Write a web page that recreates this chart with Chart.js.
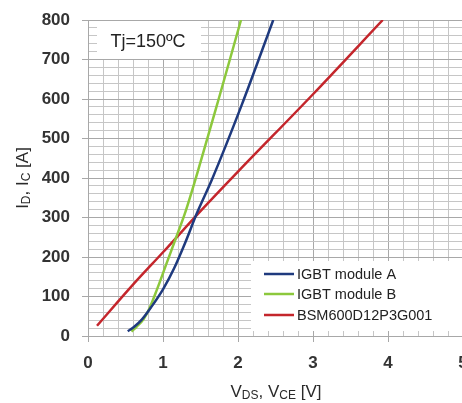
<!DOCTYPE html>
<html>
<head>
<meta charset="utf-8">
<script src="https://cdn.jsdelivr.net/npm/chart.js@4/dist/chart.umd.min.js"></script>
<style>
  html, body { margin: 0; padding: 0; background: #fff; overflow: hidden; }
  #wrap { position: absolute; left: 0; top: 0; width: 470px; height: 403px; }
</style>
</head>
<body>
<div id="wrap"><canvas id="ivChart"></canvas></div>
<script>
// Output characteristics, Tj = 150 C
const seriesNames = ['IGBT module A', 'IGBT module B', 'BSM600D12P3G001'];
const seriesColors = ['#1f3a7e', '#8cc83c', '#c4262c'];

const vIgbtA = [0.53, 0.62, 0.72, 0.85, 1.0, 1.15, 1.3, 1.45, 1.65, 2.05, 2.47];
const iIgbtA = [12, 24, 42, 75, 118, 172, 238, 310, 395, 585, 800];

const vIgbtB = [0.58, 0.65, 0.74, 0.82, 0.92, 1.05, 1.18, 1.3, 1.5, 1.75, 2.04];
const iIgbtB = [11, 24, 42, 70, 118, 185, 252, 315, 440, 605, 800];

const vBsm = [0.12, 0.6, 1.0, 1.5, 2.0, 3.0, 3.93];
const iBsm = [26, 130, 212, 316, 416, 612, 800];

const xTicks = [0, 1, 2, 3, 4, 5];
const yTicks = [0, 100, 200, 300, 400, 500, 600, 700, 800];
const xMinorDiv = 5;
const yMinorDiv = 5;

const tjLabel = 'Tj=150ºC';

function toPoints(xs, ys) {
  return xs.map((x, i) => ({ x: x, y: ys[i] }));
}

// major ticks plus evenly spaced minor ticks between them (grid only)
function withMinor(major, div) {
  const out = [];
  for (let i = 0; i < major.length - 1; i++) {
    const step = (major[i + 1] - major[i]) / div;
    for (let k = 0; k < div; k++) out.push({ value: major[i] + k * step });
  }
  out.push({ value: major[major.length - 1] });
  return out;
}

function isMajor(value, list) {
  return list.some((t) => Math.abs(t - value) < 1e-6);
}

const majorGrid = '#a8a8a8';
const minorGrid = '#c6c6c6';

// draws text with subscript parts, centred on (cx, cy)
function drawSubText(ctx, parts, cx, cy) {
  const mainFont = '17px "Liberation Sans", Arial, sans-serif';
  const subFont = '12px "Liberation Sans", Arial, sans-serif';
  let total = 0;
  parts.forEach((p) => {
    ctx.font = p[1] ? subFont : mainFont;
    total += ctx.measureText(p[0]).width;
  });
  let x = cx - total / 2;
  parts.forEach((p) => {
    ctx.font = p[1] ? subFont : mainFont;
    ctx.fillText(p[0], x, p[1] ? cy + 4 : cy);
    x += ctx.measureText(p[0]).width;
  });
}

const overlayPlugin = {
  id: 'overlay',
  beforeDatasetsDraw(chart) {
    const ctx = chart.ctx;
    ctx.save();
    ctx.fillStyle = '#fff';
    // Tj label box
    ctx.fillRect(97, 21, 104, 38);
    // legend box
    ctx.fillRect(251, 261, 220, 70);
    ctx.restore();
  },
  afterDraw(chart) {
    const ctx = chart.ctx;
    ctx.save();
    ctx.fillStyle = '#222';
    ctx.textBaseline = 'middle';
    ctx.textAlign = 'left';

    ctx.font = '18px "Liberation Sans", Arial, sans-serif';
    const w = ctx.measureText(tjLabel).width;
    ctx.fillText(tjLabel, 148 - w / 2, 42);

    // legend
    ctx.font = '14.5px "Liberation Sans", Arial, sans-serif';
    const rows = [274, 294, 315];
    seriesNames.forEach((name, i) => {
      ctx.strokeStyle = seriesColors[i];
      ctx.lineWidth = 2.5;
      ctx.beginPath();
      ctx.moveTo(264, rows[i]);
      ctx.lineTo(294, rows[i]);
      ctx.stroke();
      ctx.fillText(name, 297, rows[i] + 1);
    });

    // axis titles
    ctx.fillStyle = '#2a2a2a';
    drawSubText(ctx, [['V', false], ['DS', true], [', V', false], ['CE', true], [' [V]', false]], 276, 392);
    ctx.translate(23, 178);
    ctx.rotate(-Math.PI / 2);
    drawSubText(ctx, [['I', false], ['D', true], [', I', false], ['C', true], [' [A]', false]], 0, 0);
    ctx.restore();
  },
};

const tickFont = { family: '"Liberation Sans", Arial, sans-serif', size: 17, weight: 'bold' };

function gridColor(list) {
  return (c) => (c.tick && isMajor(c.tick.value, list) ? majorGrid : minorGrid);
}
function tickMarkColor(list) {
  return (c) => (c.tick && isMajor(c.tick.value, list) ? majorGrid : 'rgba(0,0,0,0)');
}

const ctx = document.getElementById('ivChart');
const ivChart = new Chart(ctx, {
  type: 'scatter',
  data: {
    datasets: [
      {
        label: seriesNames[0],
        data: toPoints(vIgbtA, iIgbtA),
        borderColor: seriesColors[0],
      },
      {
        label: seriesNames[1],
        data: toPoints(vIgbtB, iIgbtB),
        borderColor: seriesColors[1],
      },
      {
        label: seriesNames[2],
        data: toPoints(vBsm, iBsm),
        borderColor: seriesColors[2],
      },
    ].map((d) => Object.assign(d, {
      showLine: true,
      borderWidth: 2.5,
      pointRadius: 0,
      cubicInterpolationMode: 'monotone',
      fill: false,
    })),
  },
  options: {
    responsive: true,
    maintainAspectRatio: false,
    animation: false,
    layout: {
      padding: { left: 0, right: 7, top: 20, bottom: 0 },
    },
    plugins: {
      legend: { display: false },
      tooltip: { enabled: false },
    },
    scales: {
      x: {
        type: 'linear',
        min: xTicks[0],
        max: xTicks[xTicks.length - 1],
        afterBuildTicks: (scale) => {
          scale.ticks = withMinor(xTicks, xMinorDiv);
        },
        ticks: {
          autoSkip: false,
          maxRotation: 0,
          padding: 11,
          color: '#333',
          font: tickFont,
          callback: function (value) {
            return isMajor(value, xTicks) ? String(Math.round(value)) : '';
          },
        },
        grid: {
          tickLength: 6,
          color: gridColor(xTicks),
          tickColor: tickMarkColor(xTicks),
          lineWidth: 1,
        },
        border: { color: majorGrid },
        afterFit: function (scale) {
          scale.height = 67;
          scale.paddingLeft = 0;
          scale.paddingRight = 0;
        },
      },
      y: {
        type: 'linear',
        min: yTicks[0],
        max: yTicks[yTicks.length - 1],
        afterBuildTicks: (scale) => {
          scale.ticks = withMinor(yTicks, yMinorDiv);
        },
        ticks: {
          autoSkip: false,
          padding: 12,
          color: '#333',
          font: tickFont,
          callback: function (value) {
            return isMajor(value, yTicks) ? String(Math.round(value)) : '';
          },
        },
        grid: {
          tickLength: 6,
          color: gridColor(yTicks),
          tickColor: tickMarkColor(yTicks),
          lineWidth: 1,
        },
        border: { color: majorGrid },
        afterFit: function (scale) {
          scale.width = 88;
          scale.paddingTop = 0;
          scale.paddingBottom = 0;
        },
      },
    },
  },
  plugins: [overlayPlugin],
});
</script>
</body>
</html>
